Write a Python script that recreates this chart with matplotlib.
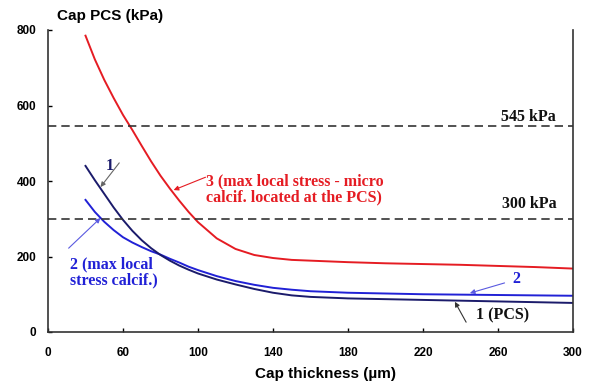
import matplotlib
matplotlib.use("Agg")
import matplotlib.pyplot as plt

# Data
thickness = [40, 45, 50, 55, 60, 65, 70, 75, 80, 85, 90, 95, 100,
             110, 120, 130, 140, 150, 160, 180, 200, 220, 240, 260, 280, 300]
pcs_1 = [440, 402, 366, 330, 297, 268, 243, 222, 204, 189, 176, 165, 155,
         139, 126, 114, 104, 97, 93, 89, 87, 85, 83, 81, 79, 77]
calcif_2 = [350, 318, 292, 270, 251, 237, 225, 214, 205, 194, 184, 173, 164,
            148, 135, 125, 117, 112, 108, 104, 102, 100, 99, 98, 97, 96]
micro_3 = [785, 722, 668, 620, 575, 535, 493, 452, 414, 380, 348, 318, 291,
           248, 220, 204, 196, 191, 189, 185, 182, 180, 178, 175, 172, 168]

limits = [545, 300]
limit_labels = ["545 kPa", "300 kPa"]

x_ticks = [20, 60, 100, 140, 180, 220, 260, 300]
x_tick_labels = ["0", "60", "100", "140", "180", "220", "260", "300"]
y_ticks = [0, 200, 400, 600, 800]

red = "#e51c23"
blue = "#2121d6"
navy = "#1b1b6b"
light_blue = "#5a5ae0"

fig = plt.figure(figsize=(5.92, 3.83), dpi=100)
ax = fig.add_axes([48 / 592, 51 / 383, 525 / 592, 302 / 383])

ax.plot(thickness, micro_3, color=red, lw=1.4)
ax.plot(thickness, calcif_2, color=blue, lw=1.4)
ax.plot(thickness, pcs_1, color=navy, lw=1.4)

serif = dict(family="Liberation Serif", weight="bold", fontsize=11.5)

for v, lab, ty in zip(limits, limit_labels, [570, 339]):
    ax.axhline(v, color="#333333", lw=1.2, ls=(0, (5, 3)))
    ax.text(291, ty, lab, ha="right", va="center", color="#111111", **serif)

ax.set_xlim(20, 300)
ax.set_ylim(0, 800)
ax.set_xticks(x_ticks)
ax.set_xticklabels(x_tick_labels)
ax.set_yticks(y_ticks)
ax.tick_params(direction="in", length=3, width=1, labelsize=8.5)
ax.tick_params(axis="x", pad=11)
ax.tick_params(axis="y", pad=8.5)
for lbl in ax.get_xticklabels() + ax.get_yticklabels():
    lbl.set_fontweight("bold")
    lbl.set_family("Liberation Sans")
ax.spines["top"].set_visible(False)
for s in ["left", "bottom", "right"]:
    ax.spines[s].set_linewidth(1.2)
    ax.spines[s].set_color("#333333")

fig.text(57 / 592, 1 - 16 / 383, "Cap PCS (kPa)", ha="left", va="center",
         fontsize=11, weight="bold", family="Liberation Sans")
fig.text(255 / 592, 1 - 374 / 383, "Cap thickness (\u00b5m)", ha="left", va="center",
         fontsize=11, weight="bold", family="Liberation Sans")


def arrow(tip, tail, color):
    ax.annotate("", xy=tip, xytext=tail,
                arrowprops=dict(arrowstyle="-|>", color=color, lw=0.8, mutation_scale=7,
                                shrinkA=0, shrinkB=0))


# curve 3 label
arrow((87, 376), (104, 410), red)
ax.text(104, 379, "3 (max local stress - micro\ncalcif. located at the PCS)",
        color=red, ha="left", va="center", linespacing=1.0, **serif)

# curve 1 label near the start
arrow((48, 384), (58, 448), "#666666")
ax.text(53, 440, "1", color=navy, ha="center", va="center", **serif)

# curve 2 label near the start
arrow((48, 302), (31, 222), light_blue)
ax.text(31.5, 159, "2 (max local\nstress calcif.)", color=blue, ha="left", va="center",
        linespacing=1.0, **serif)

# curve 2 label at the right
arrow((245, 103), (263.5, 130), light_blue)
ax.text(270, 140, "2", color=blue, ha="center", va="center", **serif)

# curve 1 label at the right
arrow((237, 80), (243, 26), "#333333")
ax.text(248.5, 45, "1 (PCS)", color="#111111", ha="left", va="center", **serif)

fig.savefig("out.png", dpi=100)
